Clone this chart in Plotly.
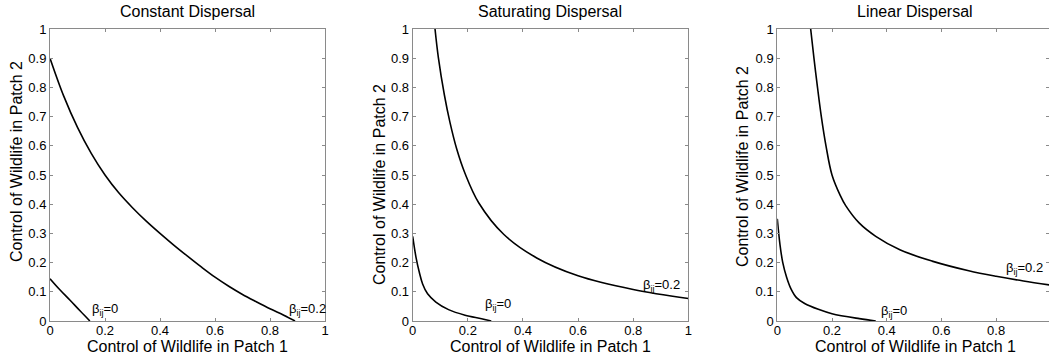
import plotly.graph_objects as go

# ---- data ----
titles = ["Constant Dispersal", "Saturating Dispersal", "Linear Dispersal"]
x_label = "Control of Wildlife in Patch 1"
y_label = "Control of Wildlife in Patch 2"

const_b02_x = [0, 0.05, 0.1, 0.15, 0.2, 0.25, 0.3, 0.35, 0.4, 0.45, 0.5, 0.55,
               0.6, 0.65, 0.7, 0.75, 0.8, 0.85, 0.891]
const_b02_y = [0.9, 0.77, 0.663, 0.574, 0.5, 0.439, 0.388, 0.342, 0.3, 0.26, 0.222, 0.185,
               0.15, 0.119, 0.091, 0.066, 0.042, 0.02, 0]
const_b0_x = [0, 0.035, 0.073, 0.11, 0.145]
const_b0_y = [0.145, 0.108, 0.071, 0.034, 0]

sat_b02_x = [0.081, 0.093, 0.115, 0.135, 0.16, 0.19, 0.24, 0.33, 0.45, 0.6, 0.8, 1.0]
sat_b02_y = [1.0, 0.903, 0.774, 0.681, 0.588, 0.505, 0.404, 0.297, 0.216, 0.155, 0.108, 0.077]
sat_b0_x = [0, 0.012, 0.024, 0.036, 0.054, 0.084, 0.13, 0.19, 0.25, 0.285]
sat_b0_y = [0.29, 0.218, 0.167, 0.127, 0.093, 0.065, 0.039, 0.02, 0.008, 0]

lin_b02_x = [0.122, 0.134, 0.147, 0.161, 0.178, 0.2, 0.23, 0.25, 0.3, 0.36, 0.45, 0.566,
             0.7, 0.8, 0.9, 1.0]
lin_b02_y = [1.0, 0.9, 0.8, 0.7, 0.6, 0.5, 0.43, 0.395, 0.335, 0.29, 0.243, 0.205,
             0.172, 0.153, 0.137, 0.123]
lin_b0_x = [0, 0.01, 0.02, 0.034, 0.05, 0.07, 0.1, 0.15, 0.2, 0.3, 0.36]
lin_b0_y = [0.35, 0.26, 0.2, 0.15, 0.11, 0.08, 0.06, 0.04, 0.025, 0.008, 0]

label_b0 = "β<sub>ij</sub>=0"
label_b02 = "β<sub>ij</sub>=0.2"
# label anchor positions (data units) per panel: (x_b0, y_b0, x_b02, y_b02)
label_pos = [(0.145, 0.041, 0.862, 0.041),
             (0.256, 0.055, 0.827, 0.12),
             (0.373, 0.032, 0.83, 0.18)]

x_ticks = [0, 0.2, 0.4, 0.6, 0.8, 1]
x_tick_text = ["0", "0.2", "0.4", "0.6", "0.8", "1"]
y_ticks = [0, 0.1, 0.2, 0.3, 0.4, 0.5, 0.6, 0.7, 0.8, 0.9, 1]
y_tick_text = ["0", "0.1", "0.2", "0.3", "0.4", "0.5", "0.6", "0.7", "0.8", "0.9", "1"]

W, H = 1049, 358
FONT = "Liberation Sans, Arial, sans-serif"
AX = "#8a8a8a"

# panel pixel extents (left, right) and label placements
panels_px = [(50, 325), (412.7, 688.3), (777.3, 1049)]
panel_width = 275.5
x_ranges = [[0, 1], [0, 1], [0, (1049 - 777.3) / 273.5]]
y_top_px, y_bot_px = 29, 321
y_dom = [1 - y_bot_px / H, 1 - y_top_px / H]
ytitle_px = [(16, 162), (379, 185), (743, 167)]  # (x center, y center)
xtitle_y_px = 346
title_y_px = 12

fig = go.Figure()
series = [
    (const_b02_x, const_b02_y, const_b0_x, const_b0_y),
    (sat_b02_x, sat_b02_y, sat_b0_x, sat_b0_y),
    (lin_b02_x, lin_b02_y, lin_b0_x, lin_b0_y),
]
for i, (ax, ay, bx, by) in enumerate(series):
    xa = "x" if i == 0 else f"x{i+1}"
    ya = "y" if i == 0 else f"y{i+1}"
    for xs, ys in ((ax, ay), (bx, by)):
        fig.add_trace(go.Scatter(x=xs, y=ys, mode="lines", xaxis=xa, yaxis=ya,
                                 line=dict(color="black", width=1.6, shape="spline", smoothing=1.0),
                                 showlegend=False, hoverinfo="skip"))

layout = dict(width=W, height=H, margin=dict(l=0, r=0, t=0, b=0, autoexpand=False),
              plot_bgcolor="white", paper_bgcolor="white",
              font=dict(family=FONT, color="black"), showlegend=False)

annotations = []
for i in range(3):
    sfx = "" if i == 0 else str(i + 1)
    x0, x1 = panels_px[i]
    last = (i == 2)
    layout["xaxis" + sfx] = dict(
        domain=[x0 / W, x1 / W], range=x_ranges[i], anchor="y" + sfx,
        tickvals=x_ticks, ticktext=x_tick_text, ticks="inside", ticklen=3,
        tickcolor=AX, showline=True, linecolor=AX, linewidth=1,
        mirror="ticks", showgrid=False, zeroline=False, automargin=False,
        ticklabelstandoff=-3,
        tickfont=dict(size=13, family=FONT, color="black"),
    )
    layout["yaxis" + sfx] = dict(
        domain=y_dom, range=[0, 1], anchor="x" + sfx,
        tickvals=y_ticks, ticktext=y_tick_text, ticks="inside", ticklen=3,
        tickcolor=AX, showline=True, linecolor=AX, linewidth=1,
        mirror=False if last else "ticks", showgrid=False, zeroline=False, automargin=False,
        tickfont=dict(size=13, family=FONT, color="black"),
    )
    cx = (x0 + panel_width / 2) / W
    annotations.append(dict(text=titles[i], xref="paper", yref="paper",
                            x=cx, y=1 - title_y_px / H,
                            xanchor="center", yanchor="middle", showarrow=False,
                            font=dict(size=16, family=FONT, color="black")))
    annotations.append(dict(text=x_label, xref="paper", yref="paper",
                            x=cx, y=1 - xtitle_y_px / H,
                            xanchor="center", yanchor="middle", showarrow=False,
                            font=dict(size=16, family=FONT, color="black")))
    tx, ty = ytitle_px[i]
    annotations.append(dict(text=y_label, xref="paper", yref="paper",
                            x=tx / W, y=1 - ty / H, textangle=-90,
                            xanchor="center", yanchor="middle", showarrow=False,
                            font=dict(size=16, family=FONT, color="black")))
    xb0, yb0, xb2, yb2 = label_pos[i]
    xr = "x" + sfx
    yr = "y" + sfx
    annotations.append(dict(text=label_b0, xref=xr, yref=yr, x=xb0, y=yb0,
                            xanchor="left", yanchor="middle", showarrow=False,
                            font=dict(size=13, family=FONT, color="black")))
    annotations.append(dict(text=label_b02, xref=xr, yref=yr, x=xb2, y=yb2,
                            xanchor="left", yanchor="middle", showarrow=False,
                            font=dict(size=13, family=FONT, color="black")))

# right-side ticks only for the clipped third panel
layout["yaxis4"] = dict(overlaying="y3", anchor="x3", side="right", range=[0, 1],
                        tickvals=y_ticks, ticks="inside", ticklen=3, tickcolor=AX,
                        showticklabels=False, showline=False, showgrid=False,
                        zeroline=False, automargin=False)
layout["annotations"] = annotations
fig.update_layout(**layout)
fig.add_trace(go.Scatter(x=[None], y=[None], xaxis="x3", yaxis="y4", showlegend=False))

fig.write_html("out.html")
